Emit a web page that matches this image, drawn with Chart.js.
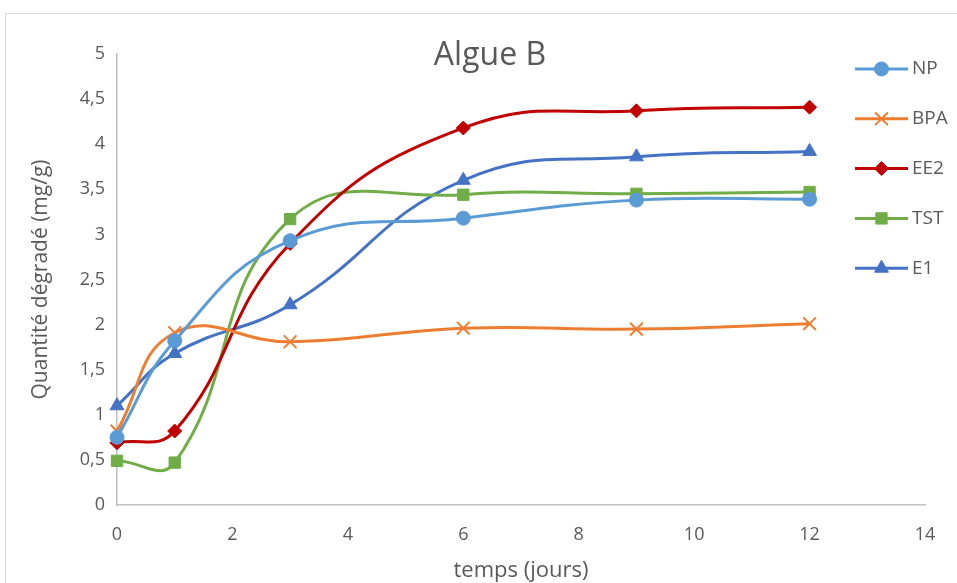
<!DOCTYPE html>
<html>
<head>
<meta charset="utf-8">
<script src="https://cdn.jsdelivr.net/npm/chart.js@4"></script>
<style>
  html, body { margin: 0; padding: 0; background: #fff; }
  #wrap { width: 957px; height: 583px; }
</style>
</head>
<body>
<div id="wrap"><canvas id="chart" width="957" height="583"></canvas></div>
<script>
// Data
const days = [0, 1, 3, 6, 9, 12];
const np  = [0.75, 1.82, 2.93, 3.18, 3.38, 3.39];
const bpa = [0.82, 1.91, 1.81, 1.96, 1.95, 2.01];
const ee2 = [0.69, 0.82, 2.90, 4.18, 4.37, 4.41];
const tst = [0.49, 0.47, 3.17, 3.44, 3.45, 3.47];
const e1  = [1.10, 1.68, 2.22, 3.60, 3.86, 3.92];
const seriesNames = ['NP', 'BPA', 'EE2', 'TST', 'E1'];
const xTicks = [0, 2, 4, 6, 8, 10, 12, 14];
const yTicks = [0, 0.5, 1, 1.5, 2, 2.5, 3, 3.5, 4, 4.5, 5];

const TEXT = '#595959';
const FONT = "'Open Sans', sans-serif";

function makeSet(label, values, color, style, radius) {
    return {
        label: label,
        data: values.map((v, i) => ({ x: days[i], y: v })),
        borderColor: color,
        backgroundColor: color,
        borderWidth: 3,
        pointStyle: style,
        pointRadius: radius,
        pointHoverRadius: radius,
        pointBorderWidth: style === 'crossRot' ? 2 : 1,
        pointBorderColor: color,
        pointBackgroundColor: color,
        tension: 0.45,
        clip: false
    };
}

const datasets = [
    makeSet(seriesNames[0], np,  '#5B9BD5', 'circle', 7),
    makeSet(seriesNames[1], bpa, '#ED7D31', 'crossRot', 9),
    makeSet(seriesNames[2], ee2, '#C00000', 'rectRot', 7),
    makeSet(seriesNames[3], tst, '#70AD47', 'rect', 8),
    makeSet(seriesNames[4], e1,  '#4472C4', 'triangle', 8)
];

// Frame, title and legend drawn over the chart (Excel-style overlay)
const overlay = {
    id: 'overlay',
    beforeDraw(chart) {
        const ctx = chart.ctx;
        ctx.save();
        ctx.strokeStyle = '#D9D9D9';
        ctx.lineWidth = 1;
        ctx.strokeRect(5.5, 13.5, 1000, 1000);
        ctx.restore();
    },
    afterDraw(chart) {
        const ctx = chart.ctx;
        ctx.save();
        ctx.fillStyle = TEXT;
        ctx.font = "32px " + FONT;
        ctx.textAlign = 'center';
        ctx.textBaseline = 'middle';
        ctx.fillText('Algue B', 490, 56);

        chart.data.datasets.forEach((ds, i) => {
            const y = 69 + i * 49.8;
            ctx.strokeStyle = ds.borderColor;
            ctx.lineWidth = 3;
            ctx.beginPath();
            ctx.moveTo(855, y);
            ctx.lineTo(908, y);
            ctx.stroke();
            ctx.fillStyle = ds.backgroundColor;
            ctx.strokeStyle = ds.borderColor;
            ctx.lineWidth = ds.pointBorderWidth;
            Chart.helpers.drawPoint(ctx, {
                pointStyle: ds.pointStyle,
                radius: ds.pointRadius,
                rotation: 0,
                borderWidth: ds.pointBorderWidth
            }, 881.5, y);
            ctx.fillStyle = TEXT;
            ctx.font = "19px " + FONT;
            ctx.textAlign = 'left';
            ctx.fillText(ds.label, 912, y);
        });
        ctx.restore();
    }
};

new Chart(document.getElementById('chart'), {
    type: 'line',
    data: { datasets: datasets },
    options: {
        responsive: false,
        animation: false,
        layout: { padding: { top: 54, right: 32, left: 28, bottom: 0 } },
        plugins: {
            legend: { display: false },
            title: { display: false },
            tooltip: { enabled: false }
        },
        scales: {
            x: {
                type: 'linear',
                min: 0,
                max: 14,
                afterFit: s => { s.height = 78; },
                afterBuildTicks: s => { s.ticks = xTicks.map(v => ({ value: v })); },
                grid: { display: false, drawTicks: false },
                border: { display: true, color: '#BFBFBF', width: 1.5 },
                ticks: { color: TEXT, font: { family: FONT, size: 18 }, padding: 19 },
                title: {
                    display: true,
                    text: 'temps (jours)',
                    color: TEXT,
                    font: { family: FONT, size: 22 },
                    padding: { top: 0, bottom: -1 }
                }
            },
            y: {
                min: 0,
                max: 5,
                afterFit: s => { s.width = 89; },
                afterBuildTicks: s => { s.ticks = yTicks.map(v => ({ value: v })); },
                grid: { display: false, drawTicks: false },
                border: { display: true, color: '#BFBFBF', width: 1.5 },
                ticks: {
                    color: TEXT,
                    font: { family: FONT, size: 18 },
                    padding: 12,
                    callback: v => String(v).replace('.', ',')
                },
                title: {
                    display: true,
                    text: 'Quantité dégradé (mg/g)',
                    color: TEXT,
                    font: { family: FONT, size: 21 },
                    padding: { top: 0, bottom: 0 }
                }
            }
        }
    },
    plugins: [overlay]
});
</script>
</body>
</html>
